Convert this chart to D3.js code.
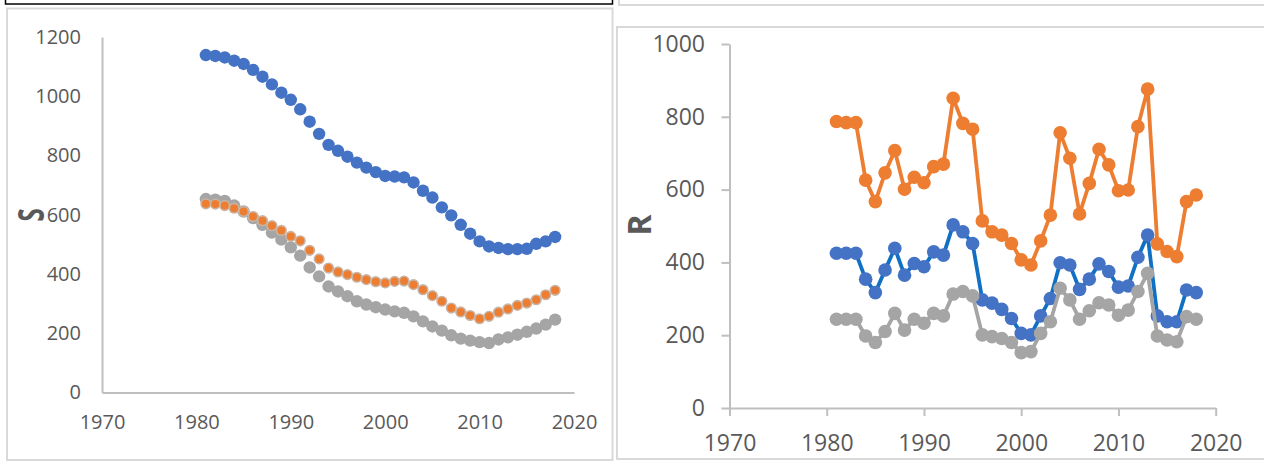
<!DOCTYPE html>
<html>
<head>
<meta charset="utf-8">
<script src="https://cdn.jsdelivr.net/npm/d3@7"></script>
<style>
  body { margin: 0; background: #fff; }
  svg { display: block; }
  text { font-family: "Open Sans", "Noto Sans", sans-serif; }
</style>
</head>
<body>
<svg id="chart" width="1264" height="462"></svg>
<script>
const years = [1981, 1982, 1983, 1984, 1985, 1986, 1987, 1988, 1989, 1990,
  1991, 1992, 1993, 1994, 1995, 1996, 1997, 1998, 1999, 2000,
  2001, 2002, 2003, 2004, 2005, 2006, 2007, 2008, 2009, 2010,
  2011, 2012, 2013, 2014, 2015, 2016, 2017, 2018];
const yearTicks = [1970, 1980, 1990, 2000, 2010, 2020];
const sTicks = [0, 200, 400, 600, 800, 1000, 1200];
const rTicks = [0, 200, 400, 600, 800, 1000];

// left panel: S
const sBlue = [1139, 1136, 1131, 1120, 1109, 1089, 1066, 1040, 1012, 988,
  956, 914, 873, 836, 816, 796, 776, 759, 744, 731,
  729, 726, 709, 681, 658, 625, 598, 566, 536, 510,
  493, 488, 484, 484, 485, 502, 510, 525];
const sOrange = [637, 636, 631, 622, 611, 594, 580, 563, 547, 527,
  512, 480, 451, 420, 407, 398, 389, 381, 374, 370,
  375, 376, 364, 347, 327, 308, 285, 272, 260, 249,
  257, 271, 282, 294, 302, 313, 330, 345];
const sGray = [653, 651, 647, 631, 611, 589, 566, 540, 516, 490,
  462, 422, 392, 358, 341, 325, 308, 297, 288, 280,
  274, 269, 257, 240, 223, 209, 193, 182, 175, 170,
  167, 179, 186, 195, 205, 216, 229, 246];

// right panel: R
const rBlue = [425, 425, 425, 354, 317, 379, 439, 365, 397, 388,
  429, 420, 503, 484, 452, 297, 288, 271, 246, 205,
  201, 253, 301, 399, 393, 326, 354, 396, 375, 332,
  335, 414, 475, 253, 237, 237, 324, 317];
const rOrange = [787, 784, 784, 626, 567, 646, 707, 601, 634, 619,
  663, 670, 851, 782, 766, 514, 484, 475, 452, 407,
  393, 459, 530, 756, 686, 533, 617, 711, 668, 597,
  599, 773, 876, 451, 430, 416, 567, 585];
const rGray = [244, 244, 244, 198, 180, 210, 260, 214, 244, 233,
  260, 253, 313, 320, 308, 201, 196, 191, 180, 152,
  155, 205, 237, 329, 297, 244, 267, 289, 283, 255,
  269, 320, 370, 198, 187, 182, 251, 244];

const C = { blue: '#4472C4', blueLine: '#0F70C4', orange: '#ED7D31', gray: '#A5A5A5', axis: '#BFBFBF', text: '#595959', frame: '#D9D9D9' };

const svg = d3.select('#chart');

// frames around the two pasted charts
svg.append('rect').attr('x', 5.5).attr('y', -10).attr('width', 607).attr('height', 14)
  .attr('fill', 'none').attr('stroke', '#000').attr('stroke-width', 1.5);
svg.append('rect').attr('x', 7).attr('y', 8.5).attr('width', 605.5).attr('height', 451.5)
  .attr('fill', 'none').attr('stroke', C.frame).attr('stroke-width', 2);
svg.append('rect').attr('x', 619).attr('y', -10).attr('width', 660).attr('height', 15)
  .attr('fill', 'none').attr('stroke', C.frame).attr('stroke-width', 2);
svg.append('rect').attr('x', 617).attr('y', 27).attr('width', 660).attr('height', 432)
  .attr('fill', 'none').attr('stroke', C.frame).attr('stroke-width', 2);

function styleAxis(g, size) {
  g.select('.domain').attr('stroke', C.axis).attr('stroke-width', 2);
  g.selectAll('.tick line').attr('stroke', C.axis).attr('stroke-width', 2);
  g.selectAll('.tick text').attr('fill', C.text).attr('font-size', size)
    .attr('font-family', '"Open Sans", "Noto Sans", sans-serif');
}

const fmt = d3.format('d');

// ---- left: S ----
{
  const x = d3.scaleLinear().domain([1970, 2020]).range([102, 574]);
  const y = d3.scaleLinear().domain([0, 1200]).range([392.5, 37]);

  svg.append('g').attr('transform', 'translate(0,392.5)')
    .call(d3.axisBottom(x).tickValues(yearTicks).tickFormat(fmt).tickSize(0).tickPadding(22))
    .call(g => styleAxis(g, 20));
  svg.append('g').attr('transform', 'translate(102,0)')
    .call(d3.axisLeft(y).tickValues(sTicks).tickFormat(fmt).tickSize(0).tickPadding(21))
    .call(g => styleAxis(g, 20));

  svg.append('text').attr('transform', 'translate(31,215) rotate(-90) scale(1,1.5)')
    .attr('text-anchor', 'middle').attr('dy', '0.35em')
    .attr('font-size', 24).attr('font-weight', 'bold').attr('fill', C.text)
    .attr('font-family', '"Liberation Sans", Arial, sans-serif').text('S');

  const series = [
    { vals: sBlue, color: C.blue, r: 6.2, stroke: 'none' },
    { vals: sGray, color: C.gray, r: 6.2, stroke: 'none' },
    { vals: sOrange, color: C.orange, r: 4.8, stroke: '#C9B4A4' }
  ];
  series.forEach(s => {
    svg.append('g').selectAll('circle').data(years).join('circle')
      .attr('cx', d => x(d)).attr('cy', (d, i) => y(s.vals[i])).attr('r', s.r)
      .attr('fill', s.color).attr('stroke', s.stroke).attr('stroke-width', 1.6);
  });
}

// ---- right: R ----
{
  const x = d3.scaleLinear().domain([1970, 2020]).range([729.5, 1215.7]);
  const y = d3.scaleLinear().domain([0, 1000]).range([408, 44]);

  svg.append('g').attr('transform', 'translate(0,408)')
    .call(d3.axisBottom(x).tickValues(yearTicks).tickFormat(fmt).tickSize(8).tickSizeOuter(0).tickPadding(19))
    .call(g => styleAxis(g, 23));
  svg.append('g').attr('transform', 'translate(729.5,0)')
    .call(d3.axisLeft(y).tickValues(rTicks).tickFormat(fmt).tickSize(8).tickSizeOuter(0).tickPadding(16.5))
    .call(g => styleAxis(g, 23));

  svg.append('text').attr('transform', 'translate(640,225) rotate(-90)')
    .attr('text-anchor', 'middle').attr('dy', '0.35em')
    .attr('font-size', 32).attr('font-weight', 'bold').attr('fill', C.text)
    .attr('font-family', '"Liberation Sans", Arial, sans-serif').text('R');

  const series = [
    { vals: rBlue, color: C.blue, line: C.blueLine },
    { vals: rOrange, color: C.orange, line: C.orange },
    { vals: rGray, color: C.gray, line: C.gray }
  ];
  series.forEach(s => {
    const line = d3.line().x((d, i) => x(years[i])).y(d => y(d));
    const g = svg.append('g');
    g.append('path').datum(s.vals).attr('d', line)
      .attr('fill', 'none').attr('stroke', s.line).attr('stroke-width', 3.8).attr('stroke-linejoin', 'round');
    g.selectAll('circle').data(s.vals).join('circle')
      .attr('cx', (d, i) => x(years[i])).attr('cy', d => y(d)).attr('r', 6.8)
      .attr('fill', s.color);
  });
}
</script>
</body>
</html>
